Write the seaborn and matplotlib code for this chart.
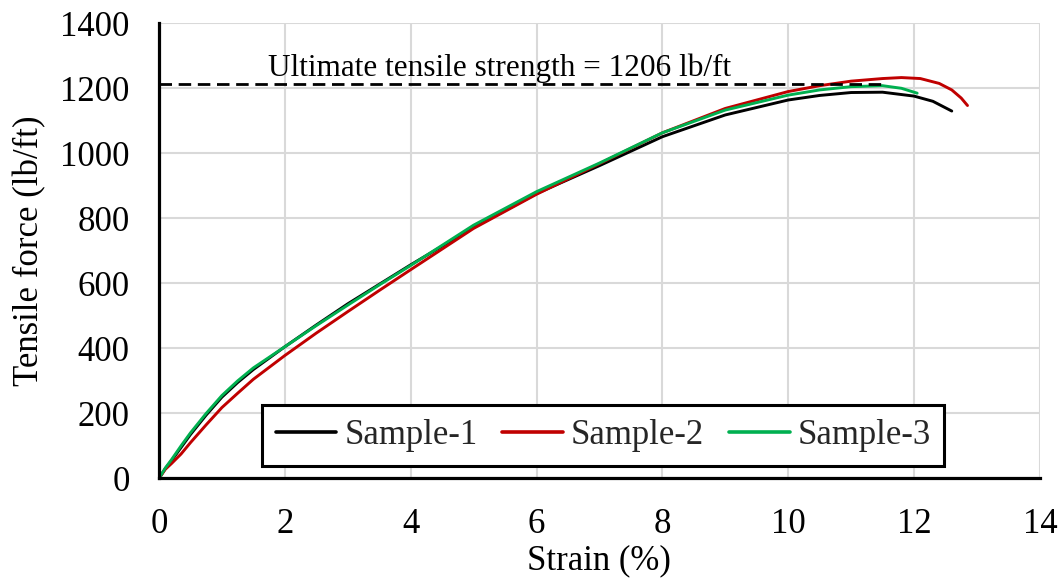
import matplotlib
matplotlib.use("Agg")
import matplotlib.pyplot as plt
import seaborn as sns
import pandas as pd
from matplotlib.ticker import MultipleLocator

# ---- data ----
s1_strain = [0, 0.1, 0.2, 0.35, 0.5, 0.75, 1, 1.25, 1.5, 2, 2.5, 3, 3.5, 4, 5, 6, 7, 8, 9, 10, 10.5, 11, 11.5, 12, 12.3, 12.6]
s1_force = [0, 30, 55, 95, 135, 195, 250, 295, 335, 405, 472, 537, 597, 657, 772, 876, 962, 1051, 1118, 1164, 1178, 1187, 1188, 1176, 1160, 1130]

s2_strain = [0, 0.1, 0.2, 0.35, 0.5, 0.75, 1, 1.25, 1.5, 2, 2.5, 3, 3.5, 4, 5, 6, 7, 8, 9, 10, 10.5, 11, 11.5, 11.8, 12.1, 12.4, 12.6, 12.75, 12.85]
s2_force = [0, 28, 46, 75, 110, 165, 218, 262, 305, 378, 447, 513, 578, 642, 769, 874, 968, 1063, 1138, 1190, 1208, 1222, 1230, 1233, 1230, 1215, 1195, 1170, 1147]

s3_strain = [0, 0.1, 0.2, 0.35, 0.5, 0.75, 1, 1.25, 1.5, 2, 2.5, 3, 3.5, 4, 5, 6, 7, 8, 9, 10, 10.5, 11, 11.5, 11.8, 12.05]
s3_force = [0, 32, 58, 100, 140, 200, 255, 300, 340, 405, 470, 533, 595, 655, 779, 882, 970, 1063, 1133, 1179, 1195, 1205, 1208, 1200, 1185]

series_names = ["Sample-1", "Sample-2", "Sample-3"]
series_colors = ["#000000", "#c00000", "#00b050"]

uts_label = "Ultimate tensile strength = 1206 lb/ft"
uts_line_y = 1212
uts_line_x = [0, 11.56]

x_label = "Strain (%)"
y_label = "Tensile force (lb/ft)"

frames = []
for name, xs, ys in zip(series_names, [s1_strain, s2_strain, s3_strain], [s1_force, s2_force, s3_force]):
    frames.append(pd.DataFrame({"strain": xs, "force": ys, "sample": name}))
df = pd.concat(frames, ignore_index=True)

sns.set_theme(style="white")
plt.rcParams["font.family"] = ["Liberation Serif", "DejaVu Serif"]

fig = plt.figure(figsize=(10.6, 5.82), dpi=100)
ax = fig.add_axes([0.150, 0.178, 0.831, 0.782])

ax.grid(True, which="major", color="#d9d9d9", linewidth=1.5)
ax.set_axisbelow(True)

sns.lineplot(data=df, x="strain", y="force", hue="sample", hue_order=series_names,
             palette=series_colors, sort=False, linewidth=2.1, ax=ax, legend=True)

ax.plot(uts_line_x, [uts_line_y, uts_line_y], color="black", linestyle=(0, (4.5, 2.4)), linewidth=2.0)
ax.text(1.73, 1238, uts_label, fontsize=22.5, va="baseline", ha="left", color="black")

ax.set_xlim(0, 14)
ax.set_ylim(0, 1400)
ax.xaxis.set_major_locator(MultipleLocator(2))
ax.xaxis.set_minor_locator(MultipleLocator(0.5))
ax.yaxis.set_major_locator(MultipleLocator(200))
ax.yaxis.set_minor_locator(MultipleLocator(40))

for side in ["top", "right"]:
    ax.spines[side].set_visible(False)
for side in ["left", "bottom"]:
    ax.spines[side].set_color("black")
    ax.spines[side].set_linewidth(2.3)

ax.tick_params(axis="both", which="major", direction="inout", length=14, width=2.3,
               color="black", labelsize=25, labelcolor="black")
ax.tick_params(axis="both", which="minor", direction="in", length=5.5, width=2.0, color="black")
ax.tick_params(axis="y", which="major", pad=14)
ax.tick_params(axis="x", which="major", pad=14)

ax.set_xlabel(x_label, fontsize=25, color="black", labelpad=3)
ax.set_ylabel(y_label, fontsize=25, color="black", labelpad=10)

handles, labels = ax.get_legend_handles_labels()
for h in handles:
    h.set_linewidth(2.6)
leg = ax.legend(handles, labels, loc="center", bbox_to_anchor=(0.569, 0.252),
                bbox_transform=fig.transFigure, ncol=3, fontsize=25, frameon=True,
                fancybox=False, framealpha=1, edgecolor="black", handlelength=1.75,
                handletextpad=0.22, columnspacing=0.72, borderpad=0.4, borderaxespad=0)
leg.get_frame().set_linewidth(2.2)

fig.savefig("out.png", dpi=100)
